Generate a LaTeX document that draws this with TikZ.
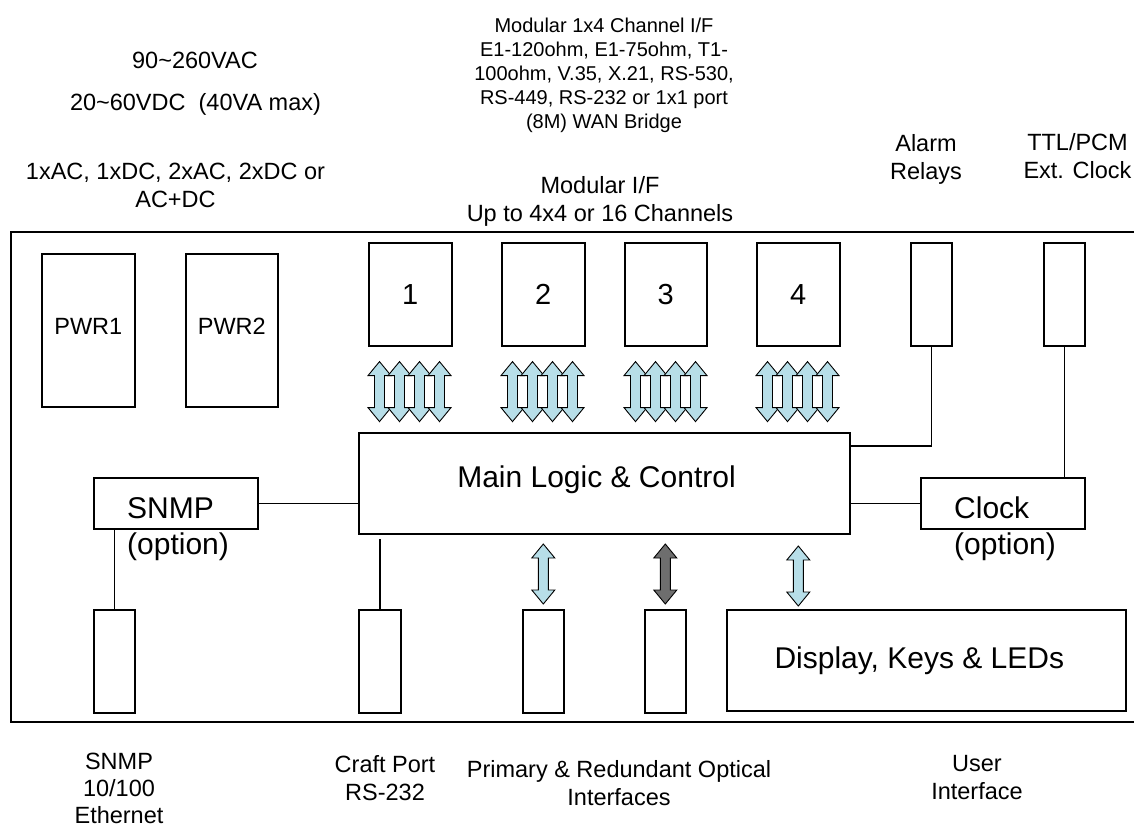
\documentclass[tikz,border=0pt]{standalone}
\usepackage{fontspec}
\setmainfont{Liberation Sans}
\usetikzlibrary{positioning,calc}
\definecolor{arrowblue}{RGB}{183,222,232}
\definecolor{arrowgrey}{RGB}{110,110,110}
\tikzset{
  unit/.style={draw, line width=1.6pt, inner sep=0pt, anchor=north west,
               font=\fontsize{23.5}{28}\selectfont},
  bigunit/.style={unit, font=\fontsize{30}{36}\selectfont},
  slot/.style={unit, font=\fontsize{29}{34}\selectfont, minimum height=103pt},
  link/.style={line width=1.6pt},
  lbl/.style={inner sep=0pt, align=center, font=\fontsize{23.5}{28}\selectfont},
  pics/dblarrow/.style={code={
    \filldraw[fill=#1, line width=0.9pt, line join=miter]
      (0,-30) -- (11.5,-16) -- (5,-16) -- (5,16) -- (11.5,16) -- (0,30)
      -- (-11.5,16) -- (-5,16) -- (-5,-16) -- (-11.5,-16) -- cycle;
  }}
}
\begin{document}
\begin{tikzpicture}[x=1pt,y=-1pt]
  \useasboundingbox (0,0) rectangle (1134,827);
  % chassis
  \draw[line width=1.8pt] (11,232) rectangle (1140,722);
  % power
  \node[unit, minimum width=93pt, minimum height=153pt] (pwr1) at (41,253) {PWR1\rule[-8pt]{0pt}{0pt}};
  \node[unit, minimum width=92pt, minimum height=153pt] (pwr2) at (185,253) {PWR2\rule[-8pt]{0pt}{0pt}};
  % channel modules
  \node[slot, minimum width=83pt] (m1) at (368,242) {1};
  \node[slot, minimum width=83pt] (m2) at (501,242) {2};
  \node[slot, minimum width=82pt] (m3) at (624,242) {3};
  \node[slot, minimum width=83pt] (m4) at (756,242) {4};
  \node[slot, minimum width=41pt] (alarm) at (910,242) {};
  \node[slot, minimum width=41pt] (ttl) at (1043,242) {};
  % core
  \node[bigunit, line width=2pt, minimum width=491pt, minimum height=101pt] (main) at (358,432)
    {\hspace*{-16pt}Main Logic \& Control\rule[-14pt]{0pt}{0pt}};
  \node[unit, minimum width=164pt, minimum height=51pt] (snmp) at (93,477) {};
  \node[unit, minimum width=164pt, minimum height=51pt] (clock) at (920,477) {};
  \node[anchor=north west, inner sep=0pt, align=left, font=\fontsize{30}{36}\selectfont]
    (snmplbl) at (127,497) {SNMP\\(option)};
  \node[anchor=north west, inner sep=0pt, align=left, font=\fontsize{30}{36}\selectfont]
    (clocklbl) at (954,497) {Clock\\(option)};
  % ports
  \node[slot, minimum width=41pt] (eth) at (93,609) {};
  \node[slot, minimum width=42pt] (craft) at (358,609) {};
  \node[slot, minimum width=41pt] (opta) at (522,609) {};
  \node[slot, minimum width=41pt] (optb) at (644,609) {};
  \node[bigunit, minimum width=399pt, minimum height=101pt] (disp) at (726,609)
    {\hspace*{-14pt}Display, Keys \& LEDs};

  % connectors
  \draw[link] (alarm.south) |- ([yshift=-14pt]main.north east);
  \draw[link] (ttl.south) -- (ttl.south |- clock.north);
  \draw[link] (clock.west) -- (clock.west -| main.east);
  \draw[link] (snmp.east) -- (snmp.east -| main.west);
  \draw[link] (eth.north) -- (eth.north |- snmp.south);
  \draw[link] (craft.north) -- ([yshift=-4pt]craft.north |- main.south);

  % bus arrows
  \foreach \m in {m1,m2,m3,m4}
    \foreach \i in {0,...,3}
      \pic at ($(\m.south west)+(11.5+20*\i,45)$) {dblarrow=arrowblue};
  \pic at ($(opta.north)+(0,-35)$) {dblarrow=arrowblue};
  \pic at ($(optb.north)+(0,-35)$) {dblarrow=arrowgrey};
  \pic at ($(m4.center |- main.south)+(0,41)$) {dblarrow=arrowblue};

  % labels
  \node[lbl] (vac) at (195,60) {90\textasciitilde260VAC};
  \node[lbl] (vdc) at (195.5,104) {20\textasciitilde60VDC\ \ (40VA max)};
  \node[lbl] (pwropt) at (175.5,185.5) {1xAC, 1xDC, 2xAC, 2xDC or\\AC+DC};
  \node[lbl, font=\fontsize{20}{24}\selectfont] (chanopt) at (604,75.5)
    {Modular 1x4 Channel I/F\\E1-120ohm, E1-75ohm, T1-\\100ohm, V.35, X.21, RS-530,\\RS-449, RS-232 or 1x1 port\\(8M) WAN Bridge};
  \node[lbl] (modif) at (600,201) {Modular I/F\\Up to 4x4 or 16 Channels};
  \node[lbl] (alarmlbl) at (926,159) {Alarm\\Relays};
  \node[lbl] (ttllbl) at (1077.5,156) {TTL/PCM\\Ext. Clock};
  \node[lbl, font=\fontsize{23.5}{27}\selectfont] (ethlbl) at (119,788) {SNMP\\10/100\\Ethernet};
  \node[lbl] (craftlbl) at (385,778) {Craft Port\\RS-232};
  \node[lbl] (optlbl) at (619,783) {Primary \& Redundant Optical\\Interfaces};
  \node[lbl] (userlbl) at (977,778) {User\\Interface};
\end{tikzpicture}
\end{document}
